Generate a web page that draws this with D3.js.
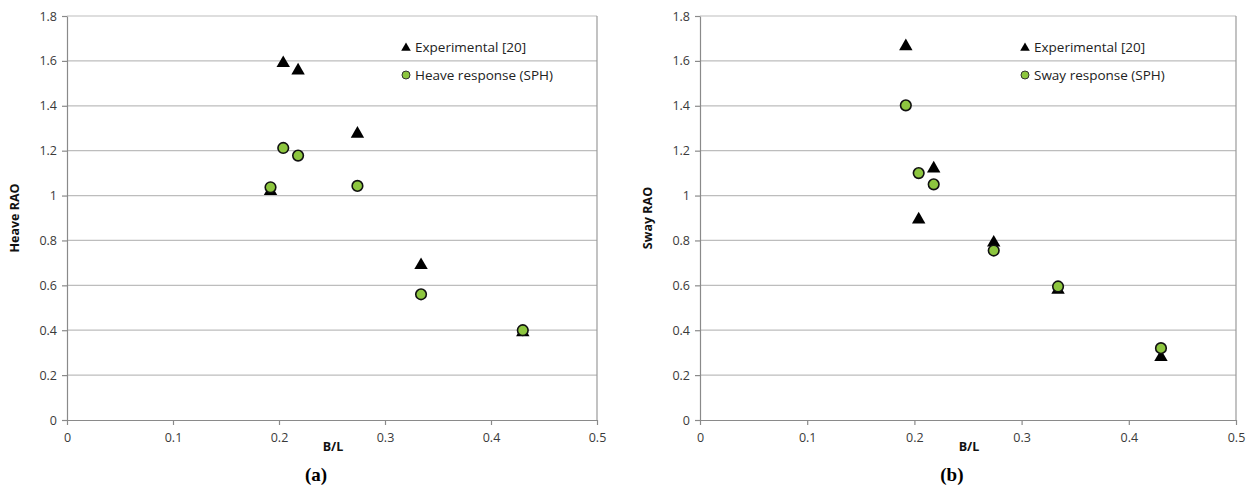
<!DOCTYPE html>
<html>
<head>
<meta charset="utf-8">
<script src="https://cdn.jsdelivr.net/npm/d3@7"></script>
<style>
  body { margin: 0; background: #fff; }
  svg { display: block; }
</style>
</head>
<body>
<svg id="chart" width="1253" height="488"></svg>
<script>
// valori
var bl = [0.192, 0.204, 0.218, 0.274, 0.334, 0.430];
var heaveExp = [1.02, 1.59, 1.557, 1.275, 0.69, 0.39];
var heaveSph = [1.037, 1.212, 1.178, 1.043, 0.56, 0.40];
var swayExp = [1.665, 0.893, 1.12, 0.79, 0.58, 0.28];
var swaySph = [1.402, 1.10, 1.05, 0.755, 0.595, 0.32];
var xTicks = [0, 0.1, 0.2, 0.3, 0.4, 0.5];
var yTicks = [0, 0.2, 0.4, 0.6, 0.8, 1, 1.2, 1.4, 1.6, 1.8];

var svg = d3.select('#chart');
var fontSans = '"Open Sans", Lato, sans-serif';

function pannello(left, right, top, bottom, yTitle, expVals, sphVals, sphLabel, legX, tag) {
  var x = d3.scaleLinear().domain([0, 0.5]).range([left, right]);
  var y = d3.scaleLinear().domain([0, 1.8]).range([bottom, top]);
  var g = svg.append('g');

  // griglia orizzontale
  g.selectAll('.grid').data(yTicks.filter(function (d) { return d > 0; }))
    .enter().append('line')
    .attr('x1', left).attr('x2', right)
    .attr('y1', function (d) { return y(d); }).attr('y2', function (d) { return y(d); })
    .attr('stroke', '#bdbdbd').attr('stroke-width', 1.2);

  // bordo destro
  g.append('line').attr('x1', right).attr('x2', right).attr('y1', top).attr('y2', bottom)
    .attr('stroke', '#9a9a9a').attr('stroke-width', 1.2);

  // assi
  var ax = g.append('g').attr('transform', 'translate(0,' + bottom + ')')
    .call(d3.axisBottom(x).tickValues(xTicks).tickSize(5).tickSizeOuter(0)
      .tickFormat(function (d) { return d === 0 ? '0' : d3.format('.1f')(d); }));
  var ay = g.append('g').attr('transform', 'translate(' + left + ',0)')
    .call(d3.axisLeft(y).tickValues(yTicks).tickSize(5).tickSizeOuter(0)
      .tickFormat(function (d) { return (d === 0 || d === 1) ? String(d) : d3.format('.1f')(d); }));
  [ax, ay].forEach(function (a) {
    a.select('.domain').attr('stroke', '#8a8a8a').attr('stroke-width', 1.2);
    a.selectAll('.tick line').attr('stroke', '#8a8a8a').attr('stroke-width', 1.2);
    a.selectAll('.tick text').attr('fill', '#3a3a3a').style('font-family', fontSans).style('font-size', '12.5px');
  });
  ax.selectAll('.tick text').attr('dy', '1.1em');
  ay.selectAll('.tick text').attr('x', -10);

  // titoli assi
  g.append('text').attr('transform', 'translate(' + (left - 48) + ',' + ((top + bottom) / 2) + ') rotate(-90)')
    .attr('text-anchor', 'middle').style('font-family', fontSans).style('font-weight', 'bold')
    .style('font-size', '12.5px').attr('fill', '#111').text(yTitle);
  g.append('text').attr('x', x(0.25) + 1).attr('y', bottom + 31)
    .attr('text-anchor', 'middle').style('font-family', fontSans).style('font-weight', 'bold')
    .style('font-size', '12.5px').attr('fill', '#111').text('B/L');

  // etichetta (a)/(b)
  g.append('text').attr('x', x(0.235)).attr('y', bottom + 61)
    .attr('text-anchor', 'middle').style('font-family', '"Liberation Serif", serif').style('font-weight', 'bold')
    .style('font-size', '19px').attr('fill', '#000').text(tag);

  var tri = d3.symbol().type(d3.symbolTriangle).size(78);
  var punti = bl.map(function (b, i) { return { b: b, e: expVals[i], s: sphVals[i] }; });

  g.selectAll('.exp').data(punti).enter().append('path')
    .attr('d', tri)
    .attr('transform', function (d) { return 'translate(' + x(d.b) + ',' + y(d.e) + ')'; })
    .attr('fill', '#000');
  g.selectAll('.sph').data(punti).enter().append('circle')
    .attr('cx', function (d) { return x(d.b); })
    .attr('cy', function (d) { return y(d.s); })
    .attr('r', 5.3)
    .attr('fill', '#8dc63f').attr('stroke', '#111').attr('stroke-width', 1.6);

  // legenda
  var leg = g.append('g');
  leg.append('path').attr('d', d3.symbol().type(d3.symbolTriangle).size(40))
    .attr('transform', 'translate(' + legX + ',48)').attr('fill', '#000');
  leg.append('circle').attr('cx', legX).attr('cy', 75).attr('r', 4)
    .attr('fill', '#8dc63f').attr('stroke', '#333').attr('stroke-width', 1);
  leg.append('text').attr('x', legX + 9).attr('y', 52).style('font-family', fontSans)
    .style('font-size', '13.5px').attr('fill', '#222').text('Experimental [20]');
  leg.append('text').attr('x', legX + 9).attr('y', 80).style('font-family', fontSans)
    .style('font-size', '13.5px').attr('fill', '#222').text(sphLabel);
}

pannello(67, 597, 16, 420, 'Heave RAO', heaveExp, heaveSph, 'Heave response (SPH)', 406, '(a)');
pannello(700, 1236, 16, 420, 'Sway RAO', swayExp, swaySph, 'Sway response (SPH)', 1025, '(b)');
</script>
</body>
</html>
